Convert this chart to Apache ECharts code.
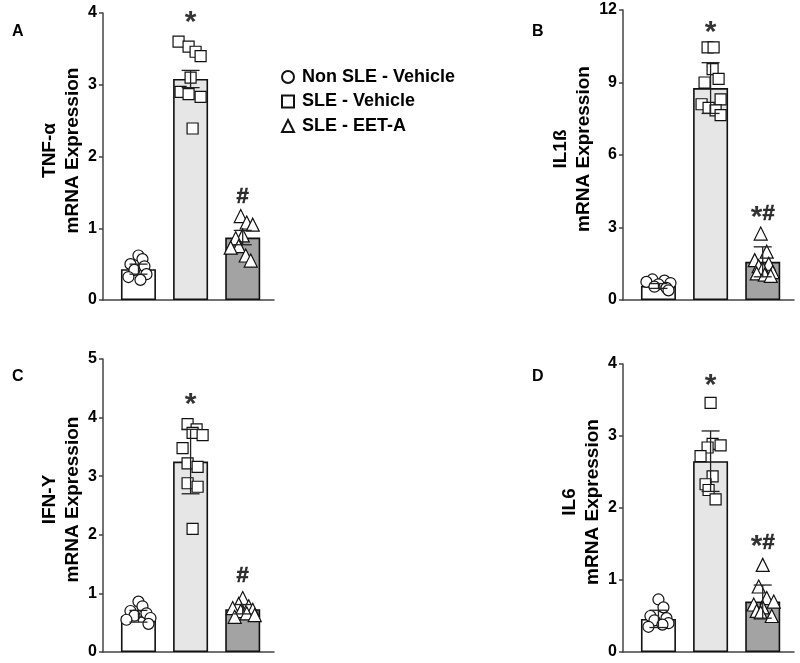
<!DOCTYPE html>
<html>
<head>
<meta charset="utf-8">
<script src="https://cdn.jsdelivr.net/npm/echarts@6/dist/echarts.min.js"></script>
<style>
html,body{margin:0;padding:0;background:#fff;}
#chart{width:800px;height:663px;}
</style>
</head>
<body>
<div id="chart"></div>
<script>
// ---------- DATA ----------
const categories = ['Non SLE - Vehicle', 'SLE - Vehicle', 'SLE - EET-A'];
const panelLetters = ['A', 'B', 'C', 'D'];
const yNames = ['TNF-\u03b1', 'IL1\u00df', 'IFN-Y', 'IL6'];
const yMax = [4, 12, 5, 4];
const yInterval = [1, 3, 1, 1];

// Panel A : TNF-α
const tnfMeans = [0.43, 3.08, 0.87];
const tnfErr = [0.07, 0.12, 0.10];
const tnfNonSle = [0.62, 0.57, 0.50, 0.47, 0.42, 0.36, 0.32, 0.28];
const tnfNonSleJit = [0, 4, -8, 6, -4, 8, -10, 2];
const tnfSleVeh = [3.60, 3.53, 3.46, 3.40, 3.10, 2.90, 2.87, 2.83, 2.39];
const tnfSleVehJit = [-12, -2, 5, 10, 0, -10, -2, 10, 2];
const tnfSleEet = [1.17, 1.08, 1.05, 0.90, 0.86, 0.75, 0.73, 0.62, 0.55];
const tnfSleEetJit = [-2, 4, 10, 0, -7, -4, -12, 3, 8];
const tnfMarks = ['*', '#'];
const tnfMarkY = [3.93, 1.44];

// Panel B : IL1ß
const il1Means = [0.58, 8.77, 1.58];
const il1Err = [0.10, 1.05, 0.62];
const il1NonSle = [0.85, 0.80, 0.75, 0.70, 0.65, 0.55, 0.50, 0.40];
const il1NonSleJit = [-6, 6, -12, 12, 0, -4, 8, 10];
const il1SleVeh = [10.45, 10.45, 9.55, 9.15, 9.00, 8.30, 8.10, 7.95, 7.85, 7.65];
const il1SleVehJit = [-3, 3, 2, 8, -6, 10, -9, -2, 5, 10];
const il1SleEet = [2.75, 2.00, 1.65, 1.50, 1.40, 1.30, 1.15, 1.10, 1.05, 1.00];
const il1SleEetJit = [-2, 4, -8, 6, -4, 0, 10, -6, 2, 8];
const il1Marks = ['*', '*#'];
const il1MarkY = [11.26, 3.58];

// Panel C : IFN-Y
const ifnMeans = [0.61, 3.25, 0.73];
const ifnErr = [0.10, 0.55, 0.08];
const ifnNonSle = [0.86, 0.78, 0.70, 0.66, 0.62, 0.58, 0.55, 0.48];
const ifnNonSleJit = [0, 4, -8, 8, -4, 12, -12, 10];
const ifnSleVeh = [3.89, 3.80, 3.74, 3.70, 3.48, 3.22, 3.16, 2.88, 2.82, 2.10];
const ifnSleVehJit = [-3, 6, 2, 12, -8, -3, 7, -3, 7, 2];
const ifnSleEet = [0.92, 0.82, 0.78, 0.75, 0.72, 0.70, 0.66, 0.63, 0.60];
const ifnSleEetJit = [0, -4, 6, -10, 10, -2, 4, 12, -8];
const ifnMarks = ['*', '#'];
const ifnMarkY = [4.30, 1.30];

// Panel D : IL6
const il6Means = [0.46, 2.65, 0.70];
const il6Err = [0.12, 0.42, 0.23];
const il6NonSle = [0.73, 0.62, 0.50, 0.47, 0.44, 0.40, 0.38, 0.35];
const il6NonSleJit = [0, 5, -8, 8, -4, 10, 4, -10];
const il6SleVeh = [3.46, 2.89, 2.87, 2.84, 2.72, 2.44, 2.33, 2.25, 2.12];
const il6SleVehJit = [0, 2, 10, -3, -10, 2, -5, -2, 5];
const il6SleEet = [1.21, 0.91, 0.75, 0.70, 0.66, 0.62, 0.57, 0.55, 0.50];
const il6SleEetJit = [0, -4, 4, 11, -9, 0, -6, -2, 9];
const il6Marks = ['*', '*#'];
const il6MarkY = [3.76, 1.52];

// ---------- BUILD ----------
const panels = [
  {means: tnfMeans, err: tnfErr, pts: [tnfNonSle, tnfSleVeh, tnfSleEet], jit: [tnfNonSleJit, tnfSleVehJit, tnfSleEetJit], marks: tnfMarks, markY: tnfMarkY},
  {means: il1Means, err: il1Err, pts: [il1NonSle, il1SleVeh, il1SleEet], jit: [il1NonSleJit, il1SleVehJit, il1SleEetJit], marks: il1Marks, markY: il1MarkY},
  {means: ifnMeans, err: ifnErr, pts: [ifnNonSle, ifnSleVeh, ifnSleEet], jit: [ifnNonSleJit, ifnSleVehJit, ifnSleEetJit], marks: ifnMarks, markY: ifnMarkY},
  {means: il6Means, err: il6Err, pts: [il6NonSle, il6SleVeh, il6SleEet], jit: [il6NonSleJit, il6SleVehJit, il6SleEetJit], marks: il6Marks, markY: il6MarkY}
];

const FONT = '"Liberation Sans", Arial, sans-serif';
const gridPos = [
  {left: 103, top: 13, width: 171, height: 287},
  {left: 623, top: 10, width: 171, height: 290},
  {left: 103, top: 359, width: 171, height: 293},
  {left: 623, top: 364, width: 171, height: 288}
];
const letterPos = [[12, 24], [532, 24], [12, 369], [532, 369]];
const barColors = ['#ffffff', '#e6e6e6', '#a3a3a3'];
const symbols = ['circle', 'rect', 'triangle'];
const PX = 52; // pixels per category unit

const grids = [], xAxes = [], yAxes = [], series = [], graphics = [];

panels.forEach((p, i) => {
  grids.push(gridPos[i]);
  xAxes.push({
    gridIndex: i, type: 'value', min: 0.32, max: 3.6,
    axisLine: {show: true, onZero: false, lineStyle: {color: '#444', width: 1.5}},
    axisTick: {show: false}, axisLabel: {show: false}, splitLine: {show: false}
  });
  yAxes.push({
    gridIndex: i, type: 'value', min: 0, max: yMax[i], interval: yInterval[i],
    name: yNames[i] + '\nmRNA Expression', nameLocation: 'middle', nameGap: 19, nameRotate: 90,
    nameTextStyle: {fontFamily: FONT, fontWeight: 'bold', fontSize: 19, color: '#000', lineHeight: 23,
      padding: [0, 0, 0, 12]},
    axisLine: {show: true, lineStyle: {color: '#444', width: 1.5}},
    axisTick: {show: true, length: 4, lineStyle: {color: '#444', width: 1.5}},
    axisLabel: {fontFamily: FONT, fontWeight: 'bold', fontSize: 16, color: '#000', margin: 6},
    splitLine: {show: false}
  });
  // bars
  series.push({
    type: 'bar', xAxisIndex: i, yAxisIndex: i, barWidth: 35, z: 2, silent: true,
    data: p.means.map((m, k) => ({value: [k + 1, m], itemStyle: {color: barColors[k]}})),
    itemStyle: {borderColor: '#111', borderWidth: 1.6}
  });
  // points
  p.pts.forEach((arr, k) => {
    series.push({
      name: categories[k], type: 'scatter', xAxisIndex: i, yAxisIndex: i, z: 3,
      symbol: symbols[k], symbolSize: k === 2 ? 13 : 11,
      itemStyle: {color: '#fff', borderColor: '#111', borderWidth: 1.2, opacity: 1},
      data: arr.map((v, j) => [k + 1 + p.jit[k][j] / PX, v])
    });
  });
  // error bars
  series.push({
    type: 'custom', xAxisIndex: i, yAxisIndex: i, z: 4, silent: true,
    data: p.means.map((m, k) => [k + 1, m, p.err[k]]),
    encode: {x: 0, y: 1},
    renderItem: function (params, api) {
      const x = api.value(0), m = api.value(1), e = api.value(2);
      const top = api.coord([x, m + e]);
      const bot = api.coord([x, m - e]);
      const hw = 9;
      const st = {stroke: '#222', lineWidth: 1.3};
      return {type: 'group', children: [
        {type: 'line', shape: {x1: top[0], y1: top[1], x2: bot[0], y2: bot[1]}, style: st},
        {type: 'line', shape: {x1: top[0] - hw, y1: top[1], x2: top[0] + hw, y2: top[1]}, style: st},
        {type: 'line', shape: {x1: bot[0] - hw, y1: bot[1], x2: bot[0] + hw, y2: bot[1]}, style: st}
      ]};
    }
  });
  // significance marks
  series.push({
    type: 'scatter', xAxisIndex: i, yAxisIndex: i, z: 5, silent: true,
    symbolSize: 1, itemStyle: {color: 'rgba(0,0,0,0)'},
    data: p.marks.map((t, k) => ({value: [k + 2, p.markY[k]], name: t})),
    label: {show: true, position: 'inside',
      formatter: function (d) {
        return d.name.split('').map(c => c === '*' ? '{s|*}' : '{h|#}').join('');
      },
      rich: {
        s: {fontFamily: FONT, fontWeight: 'bold', fontSize: 30, color: '#000', padding: [9, 0, 0, 0]},
        h: {fontFamily: FONT, fontWeight: 'bold', fontSize: 22, color: '#000', textBorderColor: '#000', textBorderWidth: 0.6}
      }
    }
  });
  graphics.push({type: 'text', left: letterPos[i][0], top: letterPos[i][1],
    style: {text: panelLetters[i], font: 'bold 16px ' + FONT, fill: '#000'}});
});

const chart = echarts.init(document.getElementById('chart'), null, {renderer: 'canvas'});
chart.setOption({
  animation: false,
  backgroundColor: '#fff',
  grid: grids, xAxis: xAxes, yAxis: yAxes, series: series, graphic: graphics,
  legend: {
    orient: 'vertical', left: 276, top: 63, itemGap: 6.5, itemWidth: 12, itemHeight: 12,
    data: categories.map((c, k) => ({name: c, icon: symbols[k]})),
    textStyle: {fontFamily: FONT, fontWeight: 'bold', fontSize: 18, color: '#000', padding: [0, 0, 0, 3]},
    selectedMode: false
  }
});
</script>
</body>
</html>
